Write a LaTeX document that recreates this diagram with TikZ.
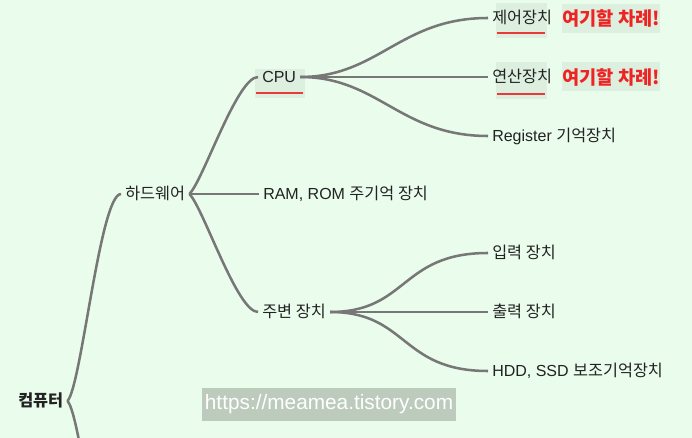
\documentclass[tikz,border=0pt]{standalone}
\usepackage{fontspec}
\setmainfont{Liberation Sans}
\newfontfamily\krfont{Noto Sans CJK KR}
\newcommand\K[1]{{\krfont\fontsize{12.2pt}{14pt}\selectfont #1}}
\definecolor{bgc}{HTML}{EAFCEC}
\definecolor{hl}{HTML}{DDEFDF}
\definecolor{linegray}{HTML}{777777}
\definecolor{textc}{HTML}{222222}
\definecolor{notered}{HTML}{EE2424}
\definecolor{ulred}{HTML}{E83A3A}
\definecolor{wmbox}{HTML}{BDCBBD}
\begin{document}
\begin{tikzpicture}[x=0.75pt,y=-0.75pt,
  conn/.style={draw=linegray, line width=1.9pt},
  topic/.style={anchor=west, inner xsep=3pt, inner ysep=0pt, text height=9.5pt, text depth=1pt, text=textc, font=\fontsize{12pt}{14pt}\selectfont},
  note/.style={fill=hl, text=notered, font=\krfont\bfseries\fontsize{14pt}{16pt}\selectfont, minimum width=73.5pt, minimum height=21.75pt, inner sep=0pt},
  hlbox/.style={fill=hl},
  uline/.style={draw=ulred, line width=1.4pt},
  wm/.style={fill=wmbox, text=white, font=\fontsize{15.6pt}{18pt}\selectfont, minimum width=190.5pt, minimum height=24.75pt, inner sep=0pt}]
\fill[bgc] (0,0) rectangle (692,438);
\useasboundingbox (0,0) rectangle (692,438);
\clip (0,0) rectangle (692,438);
% highlights
\fill[hlbox] (255,69) rectangle (305,98);
\fill[hlbox] (496,3) rectangle (547,38);
\fill[hlbox] (496,62) rectangle (547,99);
\draw[uline] (256,93) -- (303,93);
\draw[uline] (497,33) -- (545,33);
\draw[uline] (497,94) -- (545,94);
% nodes
\node[topic] (comp) at (14,401) {\K{\bfseries 컴퓨터}};
\node[topic] (hw) at (121,194) {\K{하드웨어}};
\node[topic] (cpu) at (258,77) {CPU};
\node[topic] (ram) at (259,194) {RAM, ROM \K{주기억 장치}};
\node[topic] (jb) at (258,312) {\K{주변 장치}};
\node[topic] (ctrl) at (488,18) {\K{제어장치}};
\node[topic] (alu) at (488,77) {\K{연산장치}};
\node[topic] (reg) at (488,136) {Register \K{기억장치}};
\node[topic] (inp) at (488,253) {\K{입력 장치}};
\node[topic] (outp) at (488,312) {\K{출력 장치}};
\node[topic] (hdd) at (488,371) {HDD, SSD \K{보조기억장치}};
\node[note] (note1) at (611,18.5) {여기할 차례!};
\node[note] (note2) at (611,77) {여기할 차례!};
\node[wm] (wmark) at (329,404) {https://meamea.tistory.com};
\coordinate (sw) at (121,608);
% connectors
\draw[conn] (comp.east) .. controls +(14,-14) and +(-21,0) .. (hw.west);
\draw[conn] (comp.east) .. controls +(14,14) and +(-21,0) .. (sw);
\draw[conn] (hw.east) .. controls +(14,-14) and +(-21,0) .. (cpu.west);
\draw[conn] (hw.east) -- (ram.west);
\draw[conn] (hw.east) .. controls +(14,14) and +(-21,0) .. (jb.west);
\draw[conn] (cpu.east) .. controls +(78,0) and +(-88,0) .. (ctrl.west);
\draw[conn] (cpu.east) -- (alu.west);
\draw[conn] (cpu.east) .. controls +(78,0) and +(-88,0) .. (reg.west);
\draw[conn] (jb.east) .. controls +(78,0) and +(-88,0) .. (inp.west);
\draw[conn] (jb.east) -- (outp.west);
\draw[conn] (jb.east) .. controls +(78,0) and +(-88,0) .. (hdd.west);
\end{tikzpicture}
\end{document}
